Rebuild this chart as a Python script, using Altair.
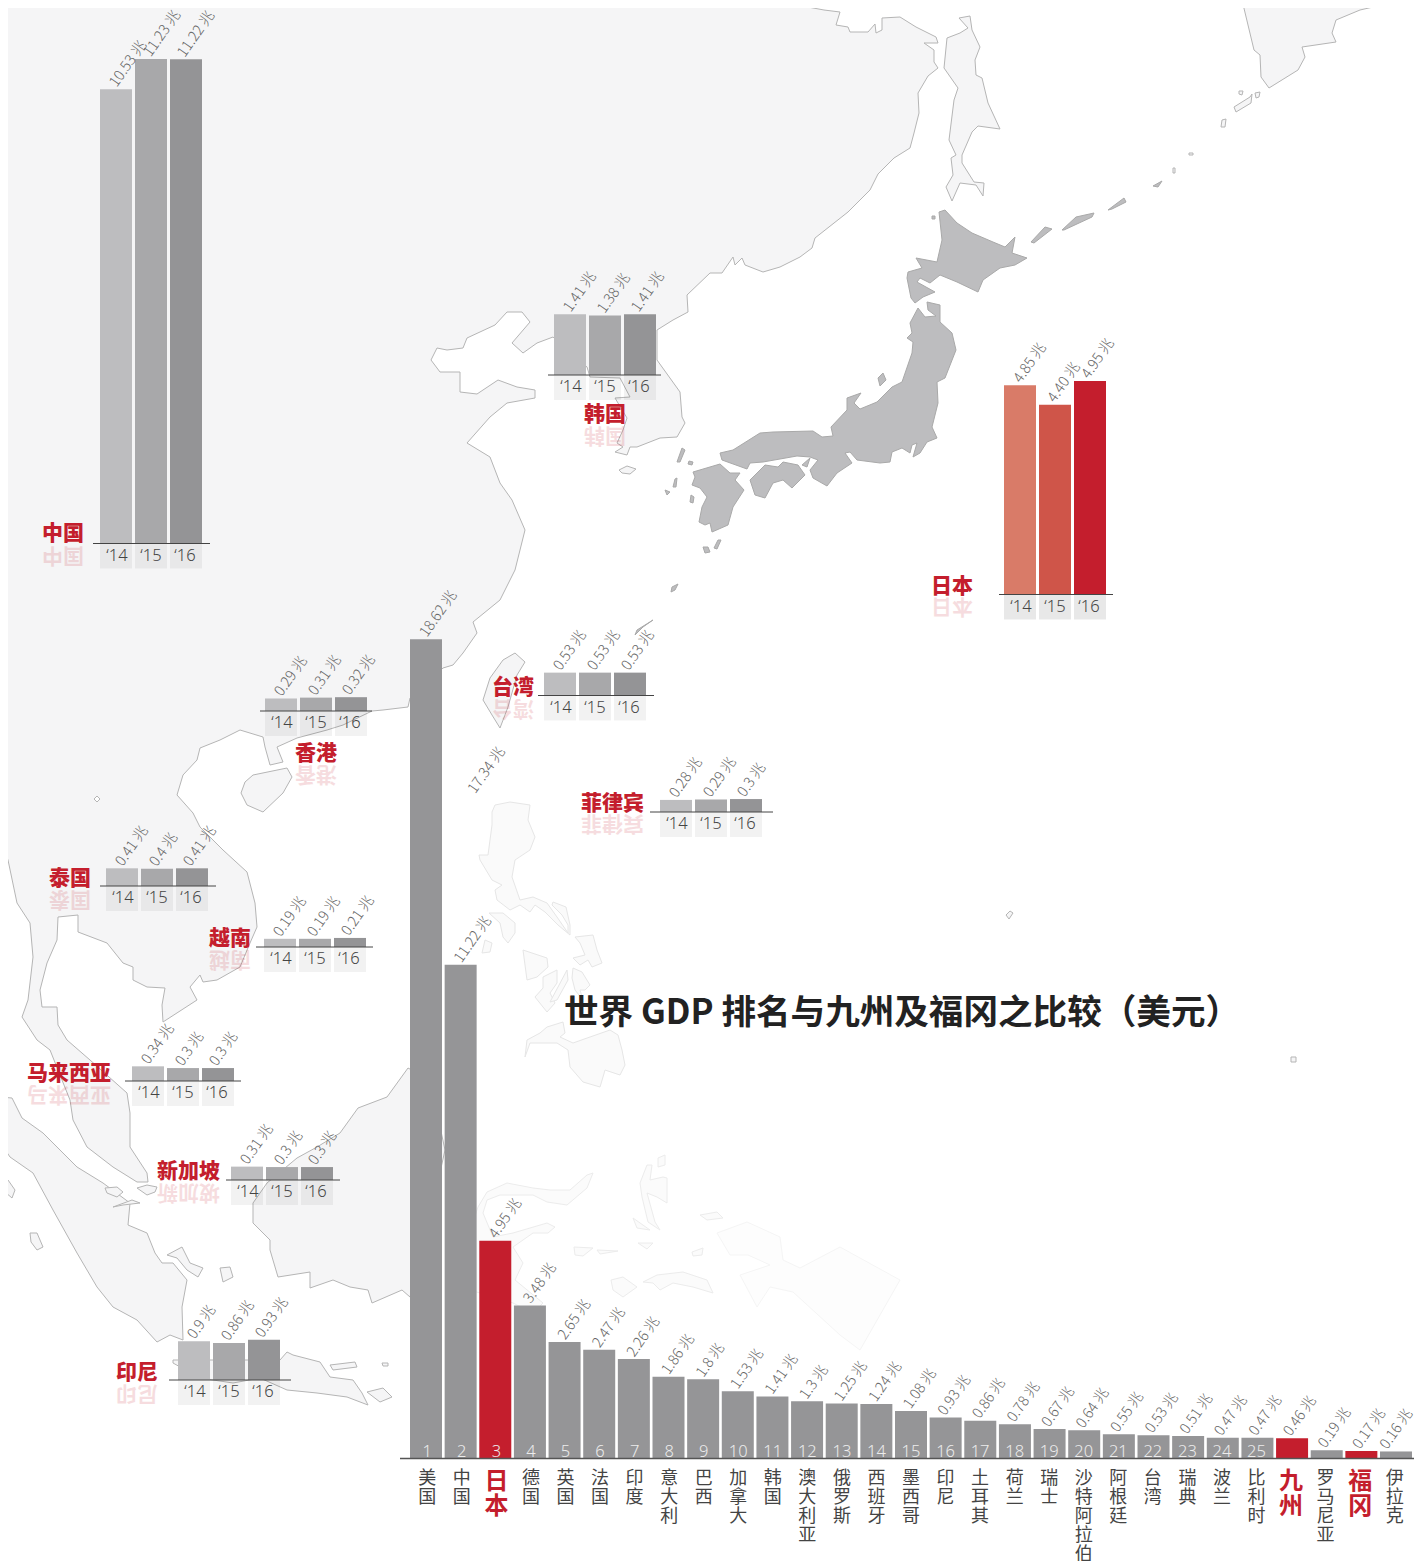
import altair as alt
import pandas as pd

# ---------- data ----------
WORLD_NAMES = ["美国","中国","日本","德国","英国","法国","印度","意大利","巴西","加拿大","韩国","澳大利亚","俄罗斯","西班牙","墨西哥","印尼","土耳其","荷兰","瑞士","沙特阿拉伯","阿根廷","台湾","瑞典","波兰","比利时","九州","罗马尼亚","福冈","伊拉克"]
WORLD_LABELS = ["18.62","11.22","4.95","3.48","2.65","2.47","2.26","1.86","1.8","1.53","1.41","1.3","1.25","1.24","1.08","0.93","0.86","0.78","0.67","0.64","0.55","0.53","0.51","0.47","0.47","0.46","0.19","0.17","0.16"]
WORLD_RANKS = [str(i) for i in range(1, 26)] + ["", "", "", ""]
HILITE = ["日本", "九州", "福冈"]
YEARS = ["‘14", "‘15", "‘16"]
GREYS = ["#bdbdbf", "#a8a8aa", "#949496"]
REDS = ["#d97b68", "#cf5549", "#c41e2d"]

CHINA = ["10.53", "11.23", "11.22"]
KOREA = ["1.41", "1.38", "1.41"]
JAPAN = ["4.85", "4.40", "4.95"]
TAIWAN = ["0.53", "0.53", "0.53"]
HONGKONG = ["0.29", "0.31", "0.32"]
PHILIPPINES = ["0.28", "0.29", "0.3"]
THAILAND = ["0.41", "0.4", "0.41"]
VIETNAM = ["0.19", "0.19", "0.21"]
MALAYSIA = ["0.34", "0.3", "0.3"]
SINGAPORE = ["0.31", "0.3", "0.3"]
INDONESIA = ["0.9", "0.86", "0.93"]

TITLE = "世界 GDP 排名与九州及福冈之比较（美元）"
STRAY_LABEL = "17.34 兆"

# map outlines
EURASIA = [(0,0),(804,0),(808,7),(824,10),(840,12),(836,25),(848,27),(850,32),(868,32),(875,24),(876,33),(882,30),(882,18),(900,17),(916,27),(936,37),(938,43),(924,43),(934,50),(934,62),(938,68),(928,76),(918,93),(919,113),(914,133),(910,148),(894,158),(878,174),(870,190),(848,212),(815,238),(812,248),(800,257),(780,267),(763,272),(745,265),(742,258),(735,265),(733,257),(722,273),(710,273),(687,295),(688,312),(673,320),(657,330),(657,360),(680,392),(682,417),(685,423),(677,437),(660,438),(637,447),(630,447),(627,455),(615,452),(623,447),(617,443),(623,430),(627,418),(615,398),(630,397),(620,378),(590,377),(587,367),(553,337),(537,343),(523,353),(512,343),(530,322),(522,312),(507,312),(495,325),(467,338),(463,348),(447,350),(437,348),(431,360),(440,372),(460,372),(460,392),(477,394),(498,380),(517,387),(535,390),(535,398),(507,403),(490,417),(467,443),(490,457),(500,483),(512,500),(525,530),(515,570),(500,600),(473,622),(477,633),(463,653),(453,665),(443,668),(410,698),(408,707),(383,710),(372,711),(343,725),(327,730),(297,738),(277,747),(283,762),(270,765),(265,747),(263,737),(240,730),(220,740),(200,748),(197,760),(183,775),(177,795),(193,813),(200,827),(223,850),(247,872),(255,903),(257,927),(250,943),(240,967),(217,980),(203,982),(200,975),(190,987),(197,1000),(163,1022),(162,1005),(165,988),(147,987),(133,980),(133,967),(123,963),(107,943),(78,932),(78,915),(58,917),(57,940),(47,963),(40,990),(42,1007),(57,1007),(58,1025),(67,1040),(90,1060),(127,1093),(130,1113),(130,1147),(147,1173),(148,1182),(137,1182),(113,1167),(87,1147),(73,1120),(70,1100),(50,1050),(37,1040),(22,1017),(28,1000),(33,957),(30,923),(17,903),(8,860),(0,840)]
KAMCHATKA = [(1242,0),(1254,50),(1260,55),(1261,77),(1269,88),(1298,70),(1305,57),(1302,47),(1336,42),(1332,33),(1336,20),(1360,10),(1382,5),(1378,0)]
SAKHALIN = [(959,18),(970,16),(972,30),(980,47),(975,60),(976,75),(982,78),(988,103),(1000,129),(978,126),(972,132),(962,155),(962,163),(974,182),(984,183),(983,196),(976,185),(960,183),(952,201),(946,187),(953,175),(951,158),(956,155),(949,140),(954,100),(958,88),(944,68),(947,38),(960,33),(968,28)]
HAINAN = [(253,775),(287,768),(292,777),(283,793),(263,812),(247,805),(241,793),(245,782)]
TAIWAN_ISLE = [(515,653),(525,662),(517,675),(508,707),(500,728),(492,715),(483,700),(490,678),(503,660)]
JEJU = [(619,470),(627,466),(636,469),(630,474),(622,473)]
SUMATRA = [(0,1097),(12,1098),(22,1118),(43,1133),(60,1150),(77,1167),(103,1183),(130,1203),(128,1225),(147,1233),(155,1253),(162,1263),(173,1263),(187,1280),(182,1307),(183,1340),(170,1335),(157,1342),(137,1320),(113,1307),(97,1287),(77,1253),(53,1210),(33,1173),(10,1157),(0,1142)]
BANGKA = [(167,1255),(182,1247),(190,1263),(203,1268),(198,1277),(187,1270),(177,1258)]
BELITUNG = [(220,1268),(230,1267),(233,1277),(223,1282)]
RIAU_A = [(105,1188),(117,1187),(123,1192),(117,1197),(107,1193)]
RIAU_B = [(113,1207),(132,1200),(140,1203),(123,1205)]
RIAU_C = [(137,1188),(147,1185),(157,1187),(155,1192),(147,1195)]
NIAS = [(30,1233),(37,1233),(43,1247),(37,1250),(31,1242)]
SIMEULUE = [(2,1180),(8,1180),(15,1190),(12,1198),(5,1192)]
JAVA = [(173,1360),(280,1360),(287,1352),(293,1355),(320,1362),(330,1377),(353,1380),(362,1393),(368,1405),(347,1397),(317,1393),(287,1390),(260,1378),(233,1383),(200,1378),(173,1363)]
MADURA = [(330,1365),(355,1362),(357,1367),(333,1370)]
BALI = [(382,1363),(388,1363),(388,1366),(383,1366)]
LOMBOK = [(367,1392),(383,1388),(392,1397),(380,1402)]
BORNEO = [(408,1068),(387,1097),(358,1108),(340,1133),(317,1147),(297,1158),(267,1183),(253,1203),(253,1223),(270,1240),(270,1250),(278,1277),(310,1272),(310,1288),(333,1280),(350,1287),(368,1290),(372,1303),(402,1290),(410,1297),(425,1240),(445,1150),(430,1080)]
KURIL_E = [(1221,127),(1222,120),(1226,119),(1225,127)]
KURIL_F = [(1234,107),(1250,97),(1252,94),(1251,103),(1236,112)]
KURIL_G = [(1255,93),(1260,92),(1259,97),(1256,98)]
KURIL_H = [(1239,91),(1243,91),(1242,95),(1239,94)]
KURIL_I = [(1173,168),(1175,168),(1175,173),(1173,173)]
KURIL_J = [(1189,153),(1193,153),(1193,155),(1189,155)]
GUAM_A = [(1006,915),(1010,911),(1013,913),(1009,919)]
GUAM_B = [(1291,1057),(1296,1057),(1296,1062),(1291,1062)]
LAKE = [(94,799),(97,796),(100,799),(97,802)]

HONSHU = [(720,453),(733,450),(760,433),(773,432),(813,431),(822,437),(833,436),(831,427),(847,410),(847,398),(861,393),(854,403),(860,409),(877,402),(892,387),(902,382),(912,353),(913,342),(907,338),(912,333),(910,323),(918,308),(925,317),(936,316),(928,310),(927,302),(940,305),(940,322),(952,333),(956,350),(945,378),(937,382),(938,403),(932,427),(937,438),(927,442),(920,453),(913,457),(917,443),(912,445),(910,453),(902,448),(892,452),(890,462),(880,463),(857,460),(850,452),(845,453),(852,463),(837,473),(827,486),(813,478),(810,470),(818,460),(810,457),(797,456),(763,462),(750,463),(747,469),(722,460)]
SHIKOKU = [(750,480),(765,465),(778,467),(783,462),(798,465),(805,475),(792,488),(783,480),(773,483),(765,498),(755,495)]
KYUSHU = [(693,472),(720,464),(730,473),(740,473),(735,480),(744,490),(733,507),(728,525),(712,532),(710,523),(705,525),(699,522),(702,507),(707,497),(700,488),(692,485),(695,477)]
HOKKAIDO = [(945,210),(957,223),(972,233),(993,242),(1005,247),(1015,237),(1012,253),(1027,258),(1015,265),(1000,268),(983,280),(978,292),(957,282),(940,275),(930,283),(920,278),(917,282),(935,292),(923,297),(915,303),(911,298),(907,278),(908,272),(922,268),(916,258),(937,262),(942,240),(939,212)]
AWAJI = [(802,465),(810,458),(807,467)]
TSUSHIMA = [(682,448),(685,450),(680,462),(677,462)]
IKI = [(689,461),(693,462),(692,465),(688,464)]
GOTO = [(675,479),(677,478),(676,487),(673,487)]
HIRADO = [(665,490),(670,492),(667,495)]
KOSHIKI = [(691,495),(694,497),(693,503),(690,502)]
TANEGA = [(718,540),(721,540),(717,549),(714,548)]
YAKU = [(703,547),(708,547),(710,552),(705,553)]
AMAMI = [(672,587),(678,584),(675,590),(671,592)]
OKINAWA = [(653,620),(637,630),(635,635),(643,627)]
SADO = [(878,378),(883,373),(886,380),(880,386)]
RISHIRI = [(932,216),(935,216),(935,219),(932,219)]
KUNASHIR = [(1031,242),(1045,227),(1052,229),(1034,243)]
ITURUP = [(1062,230),(1076,217),(1094,213),(1092,217),(1064,230)]
URUP = [(1108,210),(1124,198),(1126,202),(1112,209)]
SIMUSHIR = [(1153,186),(1162,181),(1158,187)]

LUZON = [(495,805),(510,802),(530,805),(528,820),(535,837),(530,850),(515,860),(512,877),(520,900),(533,897),(547,903),(557,917),(568,933),(568,925),(562,915),(552,905),(553,902),(566,907),(570,925),(570,935),(558,925),(545,912),(535,905),(530,912),(520,905),(510,910),(497,900),(495,890),(502,885),(492,880),(480,860),(479,855),(488,855),(490,840),(492,825),(492,812)]
MINDORO = [(489,913),(503,913),(515,923),(515,933),(508,943),(503,937),(500,923)]
SAMAR = [(575,937),(593,935),(597,950),(602,963),(592,967),(588,960),(580,965),(573,958),(585,955),(580,943)]
PANAY = [(523,950),(547,958),(548,967),(537,977),(527,980)]
NEGROS = [(543,977),(557,970),(557,983),(550,993),(555,1003),(547,1012),(535,997),(543,988)]
CEBU = [(567,970),(568,980),(557,1000),(550,1002),(558,987)]
LEYTE = [(573,968),(582,972),(590,985),(585,990),(580,990),(583,1000),(575,990),(572,978)]
MINDANAO = [(527,1040),(540,1033),(547,1027),(563,1022),(565,1033),(560,1037),(573,1043),(590,1037),(610,1030),(618,1035),(622,1050),(625,1065),(620,1075),(605,1070),(603,1077),(600,1087),(583,1082),(570,1067),(568,1050),(557,1043),(543,1043),(530,1043),(525,1057)]
CALAMIAN = [(485,940),(492,943),(490,952),(482,953)]
SULAWESI = [(478,1207),(487,1192),(507,1183),(533,1188),(550,1190),(570,1190),(587,1175),(593,1173),(587,1188),(567,1205),(547,1202),(533,1195),(500,1195),(487,1200),(483,1213),(493,1237),(513,1233),(547,1223),(555,1227),(548,1233),(533,1233),(513,1247),(523,1263),(515,1280),(543,1303),(533,1313),(513,1303),(470,1290),(470,1230)]
HALMAHERA = [(647,1165),(652,1165),(650,1180),(663,1177),(667,1178),(667,1203),(657,1197),(647,1193),(655,1222),(660,1230),(648,1222),(642,1197),(640,1183)]
MOROTAI = [(658,1158),(665,1155),(665,1165),(658,1167)]
SERAM = [(643,1282),(657,1275),(683,1272),(707,1280),(713,1293),(693,1287),(673,1283),(660,1290),(653,1283)]
BURU = [(611,1280),(623,1277),(637,1287),(623,1297),(613,1290)]
SULA_A = [(574,1247),(593,1248),(583,1256),(575,1255)]
SULA_B = [(597,1250),(618,1251),(600,1254)]
OBI = [(638,1243),(653,1243),(647,1249)]
BACAN = [(633,1218),(650,1230),(637,1228)]
MISOOL = [(692,1252),(703,1248),(702,1255),(693,1256)]
WAIGEO = [(700,1215),(717,1212),(723,1218),(707,1220)]
GUINEA = [(717,1233),(747,1222),(780,1237),(783,1260),(800,1268),(840,1247),(900,1280),(860,1350),(840,1335),(793,1292),(770,1287),(757,1307),(740,1275),(770,1265),(748,1255),(730,1255)]

# ---------- layout ----------
W, H, M = 1406, 1553, 8
PX = 43.15
WFONT = "Noto Sans CJK SC"
LATIN = "Noto Sans"

LIGHT_LAND = [EURASIA,KAMCHATKA,SAKHALIN,HAINAN,TAIWAN_ISLE,JEJU,SUMATRA,BANGKA,BELITUNG,RIAU_A,RIAU_B,RIAU_C,NIAS,SIMEULUE,JAVA,MADURA,BALI,LOMBOK,BORNEO,KURIL_E,KURIL_F,KURIL_G,KURIL_H,KURIL_I,KURIL_J,GUAM_A,GUAM_B]
JAPAN_LAND = [HONSHU,SHIKOKU,KYUSHU,HOKKAIDO,AWAJI,TSUSHIMA,IKI,GOTO,HIRADO,KOSHIKI,TANEGA,YAKU,AMAMI,OKINAWA,SADO,RISHIRI,KUNASHIR,ITURUP,URUP,SIMUSHIR]
PHIL_LAND = [LUZON,MINDORO,SAMAR,PANAY,NEGROS,CEBU,LEYTE,MINDANAO,CALAMIAN]
EAST_LAND = [SULAWESI,HALMAHERA,MOROTAI,SERAM,BURU,SULA_A,SULA_B,OBI,BACAN,MISOOL,WAIGEO]
FAR_LAND = [GUINEA]

PROJ = alt.Projection(type="identity", scale=1, translate=[-M, -M])


def land(polys, fill, stroke, sw=1.0):
    feats = [{"type": "Feature", "properties": {},
              "geometry": {"type": "Polygon", "coordinates": [[list(p) for p in poly] + [list(poly[0])]]}}
             for poly in polys]
    return alt.Chart(alt.Data(values=feats, format=alt.DataFormat(type="json"))).mark_geoshape(
        fill=fill, stroke=stroke, strokeWidth=sw).project(**PROJ.to_dict())


layers = [
    land(LIGHT_LAND, "#f5f5f6", "#b5b5b5"),
    land([LAKE], "#ffffff", "#b5b5b5"),
    land(JAPAN_LAND, "#bdbdbf", "#a9a9a9"),
    land(PHIL_LAND, "#fafafa", "#e6e6e6"),
    land(EAST_LAND, "#fbfbfb", "#ececec"),
    land(FAR_LAND, "#fdfdfd", "#f5f5f5"),
]

# ---------- small multiples ----------
GROUPS = [
    ("中国", CHINA, GREYS, 100, 543.5, 93, 210, "right", 84, 534, 555, .05),
    ("韩国", KOREA, GREYS, 554, 375, 548, 661, "center", 605, 414.5, 435, .05),
    ("日本", JAPAN, REDS, 1004, 594.5, 999, 1113, "right", 973, 586.5, 606, .09),
    ("台湾", TAIWAN, GREYS, 544, 695.5, 538, 654, "right", 534, 687.5, 708, .05),
    ("香港", HONGKONG, GREYS, 265, 711, 260, 372, "center", 316, 753.5, 774, .05),
    ("菲律宾", PHILIPPINES, GREYS, 660, 812, 650, 773, "right", 644, 803.5, 823, .05),
    ("泰国", THAILAND, GREYS, 106, 886, 100, 216, "right", 91, 878.5, 899, .05),
    ("越南", VIETNAM, GREYS, 264, 947, 256, 373, "right", 251, 938.5, 959, .05),
    ("马来西亚", MALAYSIA, GREYS, 132, 1081, 125, 241, "right", 111, 1073.5, 1094, .05),
    ("新加坡", SINGAPORE, GREYS, 231, 1180, 226, 340, "right", 220, 1171.5, 1192, .05),
    ("印尼", INDONESIA, GREYS, 178, 1380, 169, 291, "right", 158, 1372.5, 1393, .05),
]


def group_layers(name, vals, cols, x0, base, r0, r1, *_rest, tile=.05):
    df = pd.DataFrame({"year": YEARS, "v": [float(v) for v in vals],
                       "label": [v + " 兆" for v in vals], "c": cols})
    xs = alt.Scale(domain=YEARS, range=[x0 - M, x0 - M + 102], paddingInner=3 / 35, paddingOuter=0)
    ys = alt.Scale(domain=[0, 1], range=[base - M, base - M - PX], zero=False, nice=False)
    X = alt.X("year:N", scale=xs, axis=None, sort=None)
    Y = alt.Y("v:Q", scale=ys, axis=None)
    base_c = alt.Chart(df)
    return [
        base_c.mark_bar(fill="#000000", opacity=tile).encode(
            x=X, y=alt.Y(datum=0, scale=ys, axis=None), y2=alt.datum(-25 / PX)),
        base_c.mark_bar().encode(x=X, y=Y, y2=alt.datum(0), fill=alt.Fill("c:N", scale=None)),
        base_c.mark_text(angle=305, align="left", baseline="middle", dx=1, dy=-5, font=WFONT,
                         fontWeight=300, fontSize=14.5, color="#666666").encode(x=X, y=Y, text="label:N"),
        base_c.mark_text(baseline="middle", font=LATIN, fontWeight=300, fontSize=16.5, color="#444444", dy=12).encode(
            x=X, y=alt.Y(datum=-0.0, scale=ys, axis=None), text="year:N"),
        base_c.transform_filter("datum.year == '‘14'").mark_rule(color="#444444", strokeWidth=1).encode(
            x=alt.value(r0 - M), x2=alt.value(r1 - M), y=alt.value(base - M)),
    ]


for g in GROUPS:
    layers += group_layers(*g[:7], tile=g[11])

# ---------- world ranking ----------
world = pd.DataFrame({
    "name": WORLD_NAMES,
    "stack": ["\n".join(n) for n in WORLD_NAMES],
    "v": [float(v) for v in WORLD_LABELS],
    "label": [v + " 兆" for v in WORLD_LABELS],
    "rank": WORLD_RANKS,
    "c": ["#c41e2d" if n in HILITE else "#959597" for n in WORLD_NAMES],
})
BASE = 1458.5
LAST = WORLD_NAMES[-1]
wx = alt.Scale(domain=WORLD_NAMES, range=[410 - M, 1412 - M], paddingInner=2.65 / 34.65, paddingOuter=0)
wy = alt.Scale(domain=[0, 1], range=[BASE - M, BASE - M - 44], zero=False, nice=False)
WX = alt.X("name:N", scale=wx, axis=None, sort=None)
WY = alt.Y("v:Q", scale=wy, axis=None)
wc = alt.Chart(world)
plain = wc.transform_filter(alt.FieldOneOfPredicate("name", [n for n in WORLD_NAMES if n not in HILITE]))
red = wc.transform_filter(alt.FieldOneOfPredicate("name", HILITE))
layers += [
    wc.mark_bar().encode(x=WX, y=WY, y2=alt.datum(0), fill=alt.Fill("c:N", scale=None)),
    wc.transform_filter(f"datum.name != '{LAST}'").mark_text(
        angle=305, align="left", baseline="middle", dx=1, dy=-5, font=WFONT, fontWeight=300,
        fontSize=14.5, color="#666666").encode(x=WX, y=WY, text="label:N"),
    # the page is 8px narrower on the right than the reference, so the last label sits a little further left
    wc.transform_filter(f"datum.name == '{LAST}'").mark_text(
        angle=305, align="left", baseline="middle", dx=-3, dy=-11, font=WFONT, fontWeight=300,
        fontSize=14.5, color="#666666").encode(x=WX, y=WY, text="label:N"),
    wc.mark_text(baseline="middle", font=LATIN, fontWeight=300, fontSize=16.5, color="#ececec", dy=-7).encode(
        x=WX, y=alt.Y(datum=0, scale=wy, axis=None), text="rank:N"),
    plain.mark_text(baseline="top", font=WFONT, fontSize=18, color="#444444", lineBreak="\n", lineHeight=19, dy=11).encode(
        x=WX, y=alt.Y(datum=0, scale=wy, axis=None), text="stack:N"),
    red.mark_text(baseline="top", font=WFONT, fontWeight="bold", fontSize=24, color="#c41e2d", lineBreak="\n", lineHeight=25, dy=11).encode(
        x=WX, y=alt.Y(datum=0, scale=wy, axis=None), text="stack:N"),
    wc.transform_filter("datum.name == '美国'").mark_rule(color="#555555", strokeWidth=1.5).encode(
        x=alt.value(400 - M), x2=alt.value(1422 - M), y=alt.value(BASE - M)),
]

# ---------- headings and annotations (pixel scale) ----------
px = alt.Scale(domain=[M, W + M], range=[0, W])
py = alt.Scale(domain=[M, H + M], range=[0, H])
heads, mirrors = [], []
for g in GROUPS:
    name, align, lx, ly, ry = g[0], g[7], g[8], g[9], g[10]
    n = len(name)
    left = lx - 21 * n if align == "right" else lx - 21 * n / 2
    heads.append({"t": name, "x": lx, "y": ly, "a": align})
    for i, ch in enumerate(name):
        mirrors.append({"t": ch, "x": left + 21 * i + 10.5, "y": ry})
heads = pd.DataFrame(heads)
mirrors = pd.DataFrame(mirrors)
layers.append(alt.Chart(mirrors).mark_text(angle=180, align="center", baseline="middle", font=WFONT, fontWeight="bold",
                                           fontSize=21, color="#c41e2d", opacity=.15).encode(
    x=alt.X("x:Q", scale=px, axis=None), y=alt.Y("y:Q", scale=py, axis=None), text="t:N"))
for al in ["right", "center"]:
    layers.append(alt.Chart(heads[heads.a == al]).mark_text(align=al, baseline="middle", font=WFONT, fontWeight=900,
                                                           fontSize=21, color="#c41e2d").encode(
        x=alt.X("x:Q", scale=px, axis=None), y=alt.Y("y:Q", scale=py, axis=None), text="t:N"))
layers.append(alt.Chart(pd.DataFrame({"t": [STRAY_LABEL], "x": [472], "y": [792]})).mark_text(
    angle=305, align="left", baseline="middle", font=WFONT, fontWeight=300, fontSize=14.5, color="#666666").encode(
    x=alt.X("x:Q", scale=px, axis=None), y=alt.Y("y:Q", scale=py, axis=None), text="t:N"))
layers.append(alt.Chart(pd.DataFrame({"t": [TITLE], "x": [564], "y": [1014]})).mark_text(
    align="left", baseline="middle", font=WFONT, fontWeight="bold", fontSize=34.6, color="#222222").encode(
    x=alt.X("x:Q", scale=px, axis=None), y=alt.Y("y:Q", scale=py, axis=None), text="t:N"))

chart = alt.layer(*layers).resolve_scale(x="independent", y="independent").properties(
    width=W, height=H, padding=0, background="#ffffff",
    autosize=alt.AutoSizeParams(type="none")).configure_view(stroke=None)

chart.save("out.html", embed_options={"renderer": "svg", "actions": False})
